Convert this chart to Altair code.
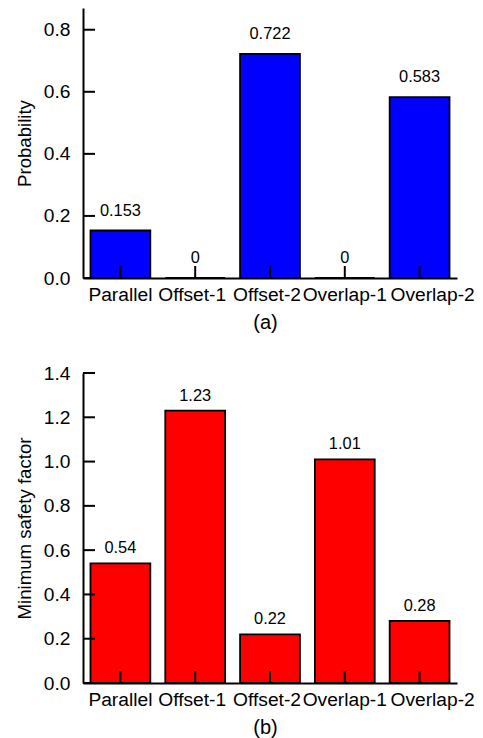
import altair as alt
import pandas as pd

# Scenario names and the two measured quantities
categories = ["Parallel", "Offset-1", "Offset-2", "Overlap-1", "Overlap-2"]
probability = [0.153, 0, 0.722, 0, 0.583]
safety_factor = [0.54, 1.23, 0.22, 1.01, 0.28]

# Tick values for the two value axes
prob_ticks = [0.0, 0.2, 0.4, 0.6, 0.8]
safety_ticks = [0.0, 0.2, 0.4, 0.6, 0.8, 1.0, 1.2, 1.4]

FONT = "Liberation Sans"
W = 374
TICK = 12
LABEL_SIZE = 19.2

# nudge the category labels so they read as one evenly spaced line
label_shift = ("datum.value == 'Overlap-2' ? 13 : "
               "(datum.value == 'Offset-1' || datum.value == 'Offset-2') ? -3 : 0")


def panel(values, ticks, y_max, height, fill, y_title, x_title, label_dy):
    df = pd.DataFrame({"scenario": categories, "value": values})
    tick_df = pd.DataFrame({"value": ticks})

    x_enc = alt.X(
        "scenario:N",
        sort=categories,
        scale=alt.Scale(paddingInner=0.2, paddingOuter=0.1),
        axis=alt.Axis(
            title=x_title,
            labelAngle=0,
            ticks=False,
            labelFontSize=LABEL_SIZE,
            labelPadding=7,
            labelOffset={"expr": label_shift},
            titleFontSize=20,
            titleFontWeight="normal",
            titlePadding=8,
            titleX=182,
        ),
    )
    y_enc = alt.Y(
        "value:Q",
        scale=alt.Scale(domain=[0, y_max], nice=False, zero=True),
        axis=alt.Axis(
            title=y_title,
            values=ticks,
            format=".1f",
            ticks=False,
            grid=False,
            labelFontSize=LABEL_SIZE,
            labelPadding=13,
            titleFontSize=18.6,
            titleFontWeight="normal",
            titlePadding=9,
        ),
    )

    bars = alt.Chart(df).mark_bar(
        fill=fill, stroke="black", strokeWidth=1.8
    ).encode(x=x_enc, y=y_enc)

    labels = alt.Chart(df).mark_text(
        font=FONT, fontSize=16.4, color="black", baseline="alphabetic", dy=label_dy
    ).encode(x=x_enc, y=y_enc, text=alt.Text("value:Q"))

    # inward ticks on the category axis
    x_ticks = alt.Chart(df).mark_rule(color="black", strokeWidth=2).encode(
        x=x_enc,
        y=alt.value(height),
        y2=alt.value(height - TICK),
    )

    # inward ticks on the value axis
    y_ticks = alt.Chart(tick_df).mark_rule(color="black", strokeWidth=2).encode(
        x=alt.value(0),
        x2=alt.value(TICK),
        y=y_enc,
    )

    return alt.layer(bars, labels, x_ticks, y_ticks).properties(width=W, height=height)


top = panel(probability, prob_ticks, 0.87, 270, "#0000FF", "Probability", "(a)", -15)
bottom = panel(safety_factor, safety_ticks, 1.4, 310, "#FF0000",
               "Minimum safety factor", "(b)", -10)

chart = alt.vconcat(top, bottom, spacing=31).properties(
    padding={"left": 15, "top": 8, "right": 0, "bottom": 0}
).configure(
    font=FONT,
).configure_view(
    stroke=None,
).configure_axis(
    domainColor="black",
    domainWidth=2,
    labelColor="black",
    titleColor="black",
    labelFont=FONT,
    titleFont=FONT,
)

chart.save("out.html", embed_options={"renderer": "svg", "actions": False})
